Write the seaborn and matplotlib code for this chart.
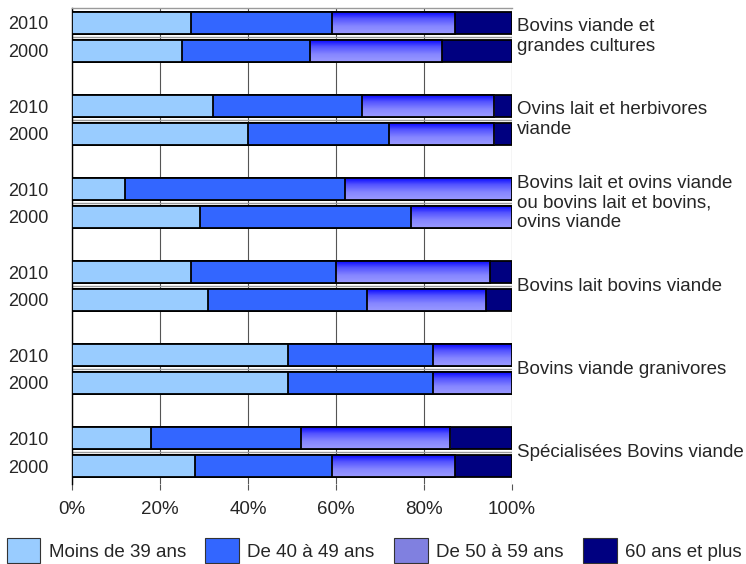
import matplotlib
matplotlib.use('Agg')
import matplotlib.pyplot as plt
import matplotlib.transforms as mtransforms
from matplotlib.patches import Patch
from matplotlib.colors import LinearSegmentedColormap
import numpy as np
import pandas as pd
import seaborn as sns

# Donnees (en %): pour chaque OTEX, 2010 puis 2000
groupes = ['Bovins viande et\ngrandes cultures',
           'Ovins lait et herbivores\nviande',
           'Bovins lait et ovins viande\nou bovins lait et bovins,\novins viande',
           'Bovins lait bovins viande',
           'Bovins viande granivores',
           'Spécialisées Bovins viande']
annees = ['2010', '2000']
classes = ['Moins de 39 ans', 'De 40 à 49 ans', 'De 50 à 59 ans', '60 ans et plus']

moins_39 = [27, 25, 32, 40, 12, 29, 27, 31, 49, 49, 18, 28]
de_40_49 = [32, 29, 34, 32, 50, 48, 33, 36, 33, 33, 34, 31]
de_50_59 = [28, 30, 30, 24, 38, 23, 35, 27, 18, 18, 34, 28]
plus_60 = [13, 16, 4, 4, 0, 0, 5, 6, 0, 0, 14, 13]

couleurs = ['#99CCFF', '#3366FF', '#8080E0', '#000080']

sns.set_style('white')
plt.rcParams['font.family'] = ['Liberation Sans', 'DejaVu Sans']

# une case vide entre chaque paire pour espacer les groupes
lignes = [f'{g}_{a}' for g in range(len(groupes)) for a in annees]
ordre = [k for g in range(len(groupes)) for k in (f'{g}_2010', f'{g}_2000', f'{g}_vide')]

parts = np.array([moins_39, de_40_49, de_50_59, plus_60], dtype=float)
cumul = np.cumsum(parts, axis=0)
df = pd.DataFrame({'ligne': lignes})
for i in range(4):
    df[f'cum{i}'] = cumul[i]

fig, ax = plt.subplots(figsize=(7.46, 5.64), dpi=100)
fig.subplots_adjust(left=0.0965, right=0.6863, top=0.9858, bottom=0.1418)

degrade = LinearSegmentedColormap.from_list('degrade', ['#0000FF', '#5555FF', '#8686FF', '#9A9AFF'])
grad = np.linspace(0, 1, 64).reshape(-1, 1)

# barres empilees : on superpose les cumuls, du plus long au plus court
for i in reversed(range(4)):
    n_avant = len(ax.patches)
    sns.barplot(data=df, x=f'cum{i}', y='ligne', order=ordre, orient='h',
                color=couleurs[i], saturation=1, edgecolor='black', linewidth=1.3,
                width=0.8, errorbar=None, zorder=10 - i, ax=ax)
    if i == 2:
        for p in ax.patches[n_avant:]:
            p.set_facecolor('none')
            x0, y0, w, h = p.get_x(), p.get_y(), p.get_width(), p.get_height()
            im = ax.imshow(grad, cmap=degrade, aspect='auto', interpolation='bilinear',
                           extent=(x0, x0 + w, y0 + h, y0), zorder=10 - i - 0.05)
            im.set_clip_path(p)

pos = [g * 3 + k for g in range(len(groupes)) for k in range(2)]
ax.set_ylim(3 * len(groupes) - 1.35, -0.54)
ax.set_xlim(0, 100)
ax.set_yticks(pos)
ax.set_yticklabels([a for g in groupes for a in annees], fontsize=13)
ax.set_xticks(range(0, 101, 20))
ax.set_xticklabels([f'{v}%' for v in range(0, 101, 20)], fontsize=13.5)
ax.set_xlabel('')
ax.set_ylabel('')
ax.tick_params(axis='y', length=0, pad=17)
ax.tick_params(axis='x', length=4, color='#555555', pad=8, bottom=True)

ax.set_axisbelow(True)
ax.xaxis.grid(True, color='#555555', linewidth=0.8)
ax.hlines([g * 3 + 0.5 for g in range(len(groupes))], 0, 100, color='#9A9A9A',
          linewidth=1, zorder=1)

for s in ['right', 'bottom']:
    ax.spines[s].set_visible(False)
ax.spines['left'].set_color('black')
ax.spines['left'].set_linewidth(1)
ax.spines['top'].set_color('#9A9A9A')
ax.spines['top'].set_linewidth(1)

trans = mtransforms.blended_transform_factory(ax.transAxes, ax.transData)
for g, nom in enumerate(groupes):
    ax.text(1.012, g * 3 + 0.5, nom, transform=trans, ha='left', va='center',
            fontsize=13.5, linespacing=1.22)

poignees = [Patch(facecolor=c, edgecolor='#333333', linewidth=0.8) for c in couleurs]
fig.legend(poignees, classes, loc='center left', bbox_to_anchor=(0.009, 0.024),
           ncol=4, frameon=False, fontsize=13.5, handlelength=1.8, handleheight=1.6,
           handletextpad=0.43, columnspacing=1.05, borderpad=0, borderaxespad=0)

fig.savefig('out.png', dpi=100)
